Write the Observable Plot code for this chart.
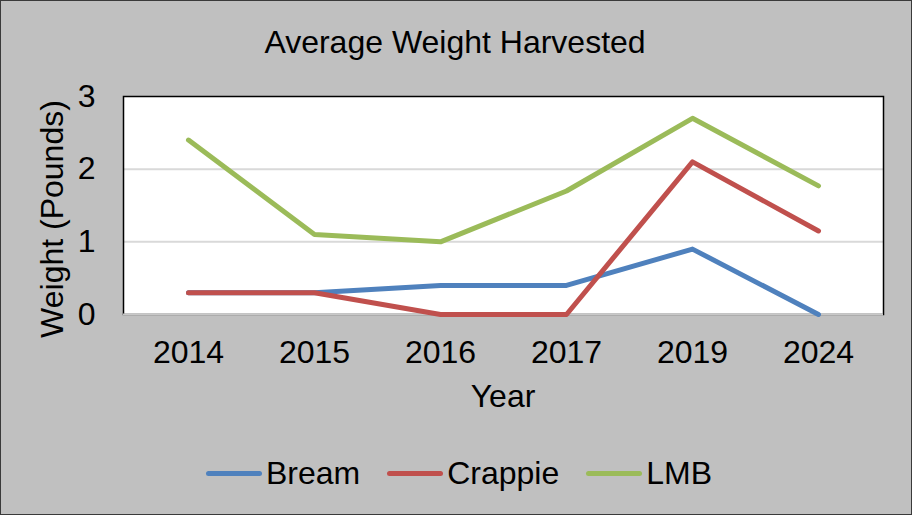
<!DOCTYPE html>
<html><head><meta charset="utf-8">
<script src="https://cdn.jsdelivr.net/npm/d3@7"></script>
<script src="https://cdn.jsdelivr.net/npm/@observablehq/plot@0.6"></script>
<style>
body{margin:0;background:#fff;}
#chart{position:relative;width:912px;height:515px;background:#c0c0c0;font-family:"Liberation Sans",Arial,sans-serif;overflow:hidden;}
#chart svg{position:absolute;left:0;top:0;}
.t{position:absolute;transform:translate(-50%,-50%);font-size:32px;line-height:1;white-space:nowrap;color:#000;}
#border{position:absolute;left:0;top:0;width:912px;height:515px;box-sizing:border-box;border:1.5px solid #3a3a3a;pointer-events:none;}
#legend{position:absolute;left:0;width:912px;box-sizing:border-box;padding-left:6px;top:473px;transform:translateY(-50%);display:flex;justify-content:center;align-items:center;font-size:32px;line-height:1;}
.item{display:flex;align-items:center;margin:0 13.5px;}
.sw{width:56px;height:5px;border-radius:3px;margin-right:4px;}
</style>
</head><body>
<div id="chart"></div>
<script>
const years = ["2014","2015","2016","2017","2019","2024"];
const bream = [0.3, 0.3, 0.4, 0.4, 0.9, 0.0];
const crappie = [0.3, 0.3, 0.0, 0.0, 2.1, 1.15];
const lmb = [2.4, 1.1, 1.0, 1.7, 2.7, 1.77];
const seriesNames = ["Bream", "Crappie", "LMB"];
const seriesColors = ["#4f81bd", "#c0504d", "#9bbb59"];
const yTicks = [0, 1, 2, 3];
const titleText = "Average Weight Harvested";
const xLabel = "Year";
const yLabel = "Weight (Pounds)";

const seriesValues = [bream, crappie, lmb];
const data = seriesNames.flatMap((s, i) => years.map((y, j) => ({series: s, year: y, value: seriesValues[i][j]})));

const chart = Plot.plot({
  width: 912, height: 515,
  marginLeft: 123, marginRight: 29, marginTop: 96, marginBottom: 201,
  style: {background: "transparent", fontFamily: "Liberation Sans, Arial, sans-serif", fontSize: "32px", color: "#000", overflow: "visible"},
  x: {type: "point", domain: years, padding: 0.5},
  y: {domain: [0, 3]},
  color: {domain: seriesNames, range: seriesColors},
  marks: [
    Plot.frame({fill: "white"}),
    Plot.ruleY([1, 2], {stroke: "#d9d9d9", strokeWidth: 2}),
    Plot.frame({stroke: "#000", strokeWidth: 1.5}),
    Plot.ruleY([0], {stroke: "#c8c8c8", strokeWidth: 2}),
    Plot.axisX({tickSize: 0, tickPadding: 26, label: null, fontSize: 32}),
    Plot.axisY({ticks: yTicks, tickSize: 0, tickPadding: 28, label: null, fontSize: 32, tickFormat: d3.format("d")}),
    Plot.line(data, {x: "year", y: "value", z: "series", stroke: "series", strokeWidth: 5, strokeLinecap: "round", strokeLinejoin: "round"})
  ]
});

const root = document.getElementById("chart");
root.appendChild(chart);

function addText(txt, x, y, rot) {
  const d = document.createElement("div");
  d.className = "t";
  d.textContent = txt;
  d.style.left = x + "px";
  d.style.top = y + "px";
  if (rot) d.style.transform = "translate(-50%,-50%) rotate(" + rot + "deg)";
  root.appendChild(d);
}
addText(titleText, 455, 42);
addText(xLabel, 503, 396);
addText(yLabel, 52, 219, -90);

const legend = document.createElement("div");
legend.id = "legend";
seriesNames.forEach((s, i) => {
  const it = document.createElement("div");
  it.className = "item";
  const sw = document.createElement("div");
  sw.className = "sw";
  sw.style.background = seriesColors[i];
  const lb = document.createElement("span");
  lb.textContent = s;
  it.appendChild(sw); it.appendChild(lb);
  legend.appendChild(it);
});
root.appendChild(legend);
const b = document.createElement("div");
b.id = "border";
root.appendChild(b);
</script>
</body></html>
